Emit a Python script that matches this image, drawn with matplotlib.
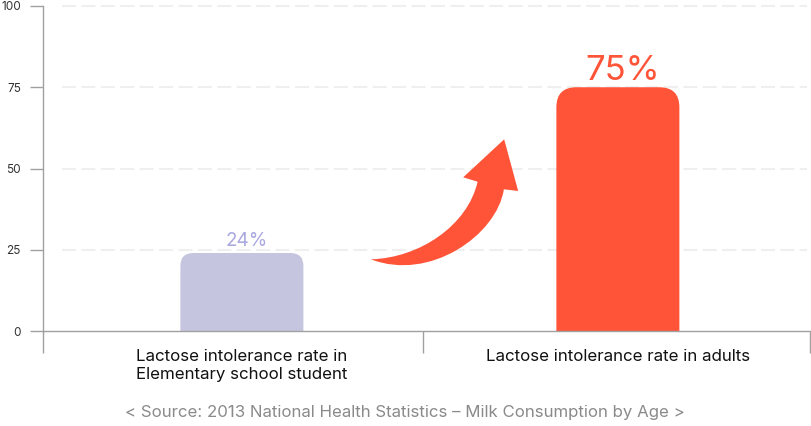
import matplotlib
matplotlib.use("Agg")
import matplotlib.pyplot as plt
from matplotlib.patches import FancyBboxPatch, PathPatch
from matplotlib.path import Path

plt.rcParams['font.family'] = ['Inter', 'DejaVu Sans']
plt.rcParams['lines.scale_dashes'] = False

# ---- data ----
categories = ["Lactose intolerance rate in\nElementary school student",
              "Lactose intolerance rate in adults"]
values = [24, 75]
value_labels = ["24%", "75%"]
bar_colors = ["#C5C5E0", "#FF5438"]
label_colors = ["#A9A8DF", "#FF5438"]
label_sizes = [13.6, 25]
yticks = [0, 25, 50, 75, 100]
source_text = "< Source: 2013 National Health Statistics \u2013 Milk Consumption by Age >"

W, H = 812, 426
fig = plt.figure(figsize=(W / 100, H / 100), dpi=100)
ax = fig.add_axes([43 / W, (H - 331) / H, (810 - 43) / W, (331 - 6) / H])

xmin, xmax = -0.529, 1.511
ax.set_xlim(xmin, xmax)
ax.set_ylim(0, 100)

# pixels per data unit
bbox = ax.get_position()
px_x = bbox.width * W / (xmax - xmin)
px_y = bbox.height * H / 100.0
aspect = px_x / px_y

bar_w_px = 123
radii_px = [13, 20]
bar_w = bar_w_px / px_x

for i, (v, c, r) in enumerate(zip(values, bar_colors, radii_px)):
    rx = r / px_x
    ry = rx * aspect
    p = FancyBboxPatch((i - bar_w / 2, -2 * ry), bar_w, v + 2 * ry,
                       boxstyle=f"round,pad=0,rounding_size={rx}",
                       mutation_aspect=aspect, facecolor=c, edgecolor='none',
                       zorder=2)
    ax.add_patch(p)

# value labels
offsets_pt = [5.0, 5.5]
for i, (v, t, c, s, o) in enumerate(zip(values, value_labels, label_colors, label_sizes, offsets_pt)):
    ax.annotate(t, xy=(i + 0.013, v), xytext=(0, o), textcoords='offset points',
                ha='center', va='baseline', color=c, fontsize=s, zorder=5)

# curved arrow (decoration) in data coordinates
verts = [
    (0.3431, 22.06),
    (0.5000, 15.08), (0.6782, 29.54), (0.6968, 43.60),
    (0.7348, 43.08),
    (0.6976, 58.98),
    (0.5886, 47.29),
    (0.6269, 45.94),
    (0.6011, 32.62), (0.4734, 22.46), (0.3431, 22.06),
    (0.3431, 22.06),
]
codes = [Path.MOVETO,
         Path.CURVE4, Path.CURVE4, Path.CURVE4,
         Path.LINETO, Path.LINETO, Path.LINETO, Path.LINETO,
         Path.CURVE4, Path.CURVE4, Path.CURVE4,
         Path.CLOSEPOLY]
ax.add_patch(PathPatch(Path(verts, codes), facecolor="#FF5438", edgecolor='none', zorder=4))

# dashed grid lines (start a little right of the y axis)
ax.set_yticks(yticks)
ax.set_yticklabels([str(t) for t in yticks])
gx0 = xmin + 19 / px_x
gx1 = xmin + (807 - 43) / px_x
for t in yticks[1:]:
    ln, = ax.plot([gx0, gx1], [t, t], color="#EFEFEF", lw=1.5, zorder=1,
                  clip_on=False, solid_capstyle='butt', dash_capstyle='butt')
    ln.set_dashes((10.08, 3.9))

# spines
for s in ['top', 'right']:
    ax.spines[s].set_visible(False)
for s in ['left', 'bottom']:
    ax.spines[s].set_color("#A0A0A0")
    ax.spines[s].set_linewidth(1.0)

ax.tick_params(axis='y', length=9.4, width=1.0, color="#A0A0A0", pad=6.5,
               labelsize=8.5, labelcolor="#333333")

# x ticks: labels at category centres, separator marks as minor ticks
ax.set_xticks([0.0, 1.0])
ax.set_xticklabels(categories, fontsize=12.2, color="#111111", linespacing=1.28)
ax.tick_params(axis='x', which='major', length=0, pad=13)
ax.set_xticks([xmin, 0.481, xmax], minor=True)
ax.tick_params(axis='x', which='minor', length=16, width=1.0, color="#A0A0A0")

fig.text(405 / W, 1 - 413 / H, source_text, ha='center', va='center',
         fontsize=12.1, color="#8A8A8A")

fig.savefig("out.png", dpi=100)
